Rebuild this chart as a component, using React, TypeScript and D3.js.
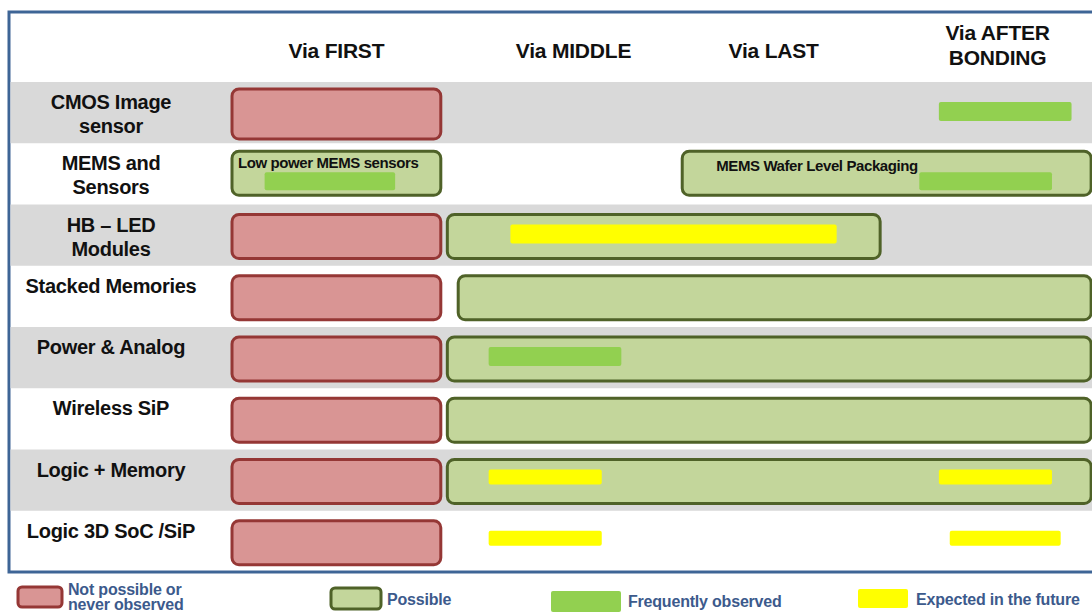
import * as d3 from "d3";

// stages of the via process (columns) and where their headings sit on the stage axis
const stageLabels = [["Via FIRST"], ["Via MIDDLE"], ["Via LAST"], ["Via AFTER", "BONDING"]];
const stageCenters = [0.48, 1.57, 2.49, 3.52];

// applications (rows)
const applications = [
  ["CMOS Image", "sensor"],
  ["MEMS and", "Sensors"],
  ["HB \u2013 LED", "Modules"],
  ["Stacked Memories"],
  ["Power & Analog"],
  ["Wireless SiP"],
  ["Logic + Memory"],
  ["Logic 3D SoC /SiP"],
];

// spans along the stage axis, [row, start, end]
const notPossible = [
  [0, 0, 0.96],
  [2, 0, 0.96],
  [3, 0, 0.96],
  [4, 0, 0.96],
  [5, 0, 0.96],
  [6, 0, 0.96],
  [7, 0, 0.96],
];
const possible = [
  [1, 0, 0.96],
  [1, 2.07, 3.95],
  [2, 0.99, 2.98],
  [3, 1.04, 3.95],
  [4, 0.99, 3.95],
  [5, 0.99, 3.95],
  [6, 0.99, 3.95],
];
const possibleNotes = ["Low power MEMS sensors", "MEMS Wafer Level Packaging", "", "", "", "", ""];
const frequent = [
  [0, 3.25, 3.86],
  [1, 0.15, 0.75],
  [1, 3.16, 3.77],
  [4, 1.18, 1.79],
];
const expected = [
  [2, 1.28, 2.78],
  [6, 1.18, 1.7],
  [6, 3.25, 3.77],
  [7, 1.18, 1.7],
  [7, 3.3, 3.81],
];

const legendLabels = [["Not possible or", "never  observed"], ["Possible"], ["Frequently observed"], ["Expected in the future"]];

const RED_FILL = "#d99594";
const RED_LINE = "#953735";
const OK_FILL = "#c3d69b";
const OK_LINE = "#4f6228";
const FREQ = "#92d050";
const FUTURE = "#ffff00";
const FRAME = "#3e6596";
const TEXT_BLUE = "#3c5a8c";

const W = 1092;
const H = 612;
const FONT = "'Liberation Sans', Arial, sans-serif";

export default function App() {
  const x = d3.scaleLinear().domain([0, 4]).range([232, 1102]);
  const y = d3
    .scaleBand<number>()
    .domain(applications.map((_, i) => i))
    .range([82, 572]);
  const bh = y.bandwidth();

  const outerBox = (d: number[], i: number, fill: string, stroke: string) => {
    const top = y(d[0])! + (d[0] === 0 ? 7 : d[0] === 1 ? 8 : 10);
    const h = d[0] === 0 ? 50 : 44;
    return (
      <rect
        key={i}
        x={x(d[1])}
        y={top}
        width={x(d[2]) - x(d[1])}
        height={h}
        rx={7}
        fill={fill}
        stroke={stroke}
        strokeWidth={3}
      />
    );
  };

  const innerBar = (d: number[], i: number, fill: string) => {
    const shifted = d[0] === 1;
    const top = y(d[0])! + (shifted ? 29 : 20);
    const h = shifted ? 18 : d[0] >= 6 ? 15 : 19;
    return (
      <rect
        key={i}
        x={x(d[1])}
        y={top}
        width={x(d[2]) - x(d[1])}
        height={h}
        rx={2}
        fill={fill}
      />
    );
  };

  return (
    <svg
      width={W}
      height={H}
      style={{ position: "absolute", left: 0, top: 0, background: "#fff" }}
      fontFamily={FONT}
    >
      {/* frame */}
      <rect x={9} y={12} width={W} height={560} fill="#fff" stroke={FRAME} strokeWidth={3} />

      {/* alternating row bands */}
      {applications.map((_, i) =>
        i % 2 === 0 ? (
          <rect key={i} x={10.5} y={y(i)} width={W} height={bh} fill="#d9d9d9" />
        ) : null
      )}

      {/* column headings */}
      {stageLabels.map((lines, i) => (
        <text
          key={i}
          x={x(stageCenters[i])}
          textAnchor="middle"
          fontWeight="bold"
          fontSize={21}
          letterSpacing={-0.2}
          fill="#111"
        >
          {lines.map((l, j) => (
            <tspan key={j} x={x(stageCenters[i])} y={(lines.length > 1 ? 40 : 58) + j * 25}>
              {l}
            </tspan>
          ))}
        </text>
      ))}

      {/* row labels */}
      {applications.map((lines, i) => (
        <text key={i} textAnchor="middle" fontWeight="bold" fontSize={20} fill="#111" letterSpacing={-0.3}>
          {lines.map((l, j) => (
            <tspan key={j} x={111} y={y(i)! + 27 + j * 24}>
              {l}
            </tspan>
          ))}
        </text>
      ))}

      {notPossible.map((d, i) => outerBox(d, i, RED_FILL, RED_LINE))}
      {possible.map((d, i) => outerBox(d, i, OK_FILL, OK_LINE))}
      {frequent.map((d, i) => innerBar(d, i, FREQ))}
      {expected.map((d, i) => innerBar(d, i, FUTURE))}

      {possible.map((d, i) =>
        possibleNotes[i] ? (
          <text
            key={i}
            x={x(d[1]) + (i === 0 ? 6 : 34)}
            y={y(d[0])! + (i === 0 ? 25 : 28)}
            fontWeight="bold"
            fontSize={15}
            letterSpacing={-0.4}
            fill="#111"
          >
            {possibleNotes[i]}
          </text>
        ) : null
      )}

      {/* legend */}
      <g fontWeight="bold" fontSize={16} letterSpacing={-0.2} fill={TEXT_BLUE}>
        <rect x={18} y={587} width={44} height={20} rx={4} fill={RED_FILL} stroke={RED_LINE} strokeWidth={3} />
        <text>
          {legendLabels[0].map((l, j) => (
            <tspan key={j} x={68} y={595 + j * 15}>
              {l}
            </tspan>
          ))}
        </text>
        <rect x={331} y={588} width={50} height={21} rx={4} fill={OK_FILL} stroke={OK_LINE} strokeWidth={3} />
        <text x={387} y={605}>{legendLabels[1][0]}</text>
        <rect x={551} y={591} width={70} height={21} rx={2} fill={FREQ} />
        <text x={628} y={607}>{legendLabels[2][0]}</text>
        <rect x={858} y={589} width={50} height={19} rx={2} fill={FUTURE} />
        <text x={916} y={605}>{legendLabels[3][0]}</text>
      </g>
    </svg>
  );
}
